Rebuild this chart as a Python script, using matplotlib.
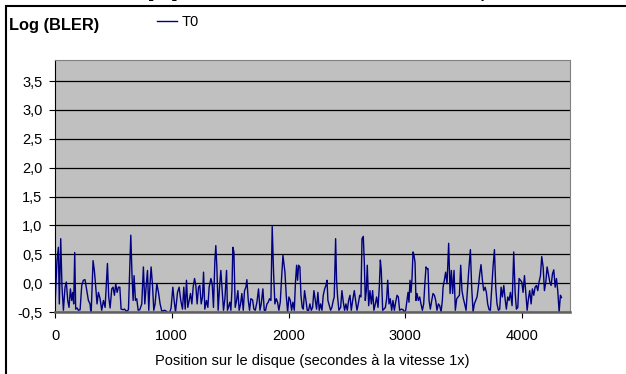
"""Log(BLER) vs disc position chart."""

import matplotlib
matplotlib.use("Agg")
import matplotlib.pyplot as plt
from matplotlib.patches import Rectangle
from matplotlib.ticker import FuncFormatter

# position on disc (seconds at 1x) and log(BLER)
secs = [
    0, 17, 29, 37, 49, 60, 72, 86, 97, 109, 120, 132, 143, 152, 160, 169, 177, 189,
    200, 215, 229, 243, 257, 272, 286, 300, 309, 326, 337, 349, 360, 372, 386, 400,
    415, 429, 449, 460, 472, 486, 497, 509, 520, 532, 543, 555, 566, 583, 595, 612,
    629, 649, 660, 669, 677, 689, 700, 712, 726, 743, 757, 769, 780, 792, 803, 812,
    823, 834, 846, 857, 872, 886, 900, 915, 937, 957, 977, 994, 1009, 1020, 1032,
    1049, 1063, 1077, 1092, 1103,
    1115, 1126, 1137, 1149, 1160, 1172, 1183, 1195, 1206, 1217, 1229, 1240, 1252,
    1263, 1272, 1283, 1297, 1309, 1320, 1335, 1346, 1357, 1369, 1377, 1386, 1397,
    1409, 1420, 1432, 1443, 1455, 1469, 1477, 1489, 1497, 1506, 1515, 1523, 1532,
    1543, 1555, 1566, 1577, 1589, 1600, 1612, 1623, 1635, 1643, 1655, 1666, 1677,
    1692, 1703, 1715, 1729, 1743, 1755, 1766, 1780, 1792, 1803, 1815, 1826, 1837,
    1849, 1860, 1872, 1883, 1895, 1906, 1917, 1929, 1940, 1952, 1960, 1969, 1980,
    1992, 2003, 2015, 2026, 2037, 2049, 2060, 2069, 2077, 2086, 2097, 2106, 2117,
    2126, 2137, 2149, 2160, 2172, 2183, 2195, 2206,
    2217, 2229, 2240, 2251, 2263, 2274, 2286, 2297, 2309, 2320, 2329, 2337, 2349,
    2360, 2371, 2383, 2391, 2403, 2411, 2420, 2431, 2446, 2457, 2469, 2480, 2491,
    2503, 2514, 2526, 2537, 2549, 2563, 2574, 2586, 2597, 2609, 2620, 2629, 2640,
    2649, 2657, 2666, 2674, 2686, 2697, 2709, 2720, 2731, 2743, 2754, 2766, 2777,
    2786, 2794, 2806, 2817, 2829, 2840, 2849, 2860, 2871, 2883, 2894, 2906, 2917,
    2929, 2940, 2951, 2966, 2980, 2991, 3003, 3014, 3023, 3031, 3040, 3049, 3057,
    3066, 3074, 3083, 3091, 3100, 3111, 3123, 3134, 3146, 3157, 3169, 3177, 3186,
    3194, 3203, 3214, 3226, 3237, 3249, 3260, 3271, 3283, 3294, 3306, 3317,
    3323, 3334, 3345, 3357, 3371, 3383, 3394, 3405, 3417, 3428, 3440, 3451, 3463,
    3474, 3485, 3497, 3508, 3520, 3531, 3543, 3557, 3568, 3580, 3591, 3603, 3614,
    3625, 3637, 3648, 3660, 3671, 3683, 3694, 3705, 3717, 3728, 3740, 3751, 3763,
    3774, 3785, 3797, 3808, 3820, 3831, 3843, 3854, 3865, 3877, 3888, 3900, 3914,
    3928, 3940, 3951, 3963, 3974, 3985, 3997, 4008, 4020, 4031, 4043, 4054, 4065,
    4077, 4088, 4100, 4111, 4123, 4134, 4145, 4157, 4168, 4180, 4191, 4203, 4214,
    4225, 4237, 4248, 4260, 4271, 4283, 4294, 4305, 4317, 4328, 4337,
]
log_bler = [
    -0.40, 0.39, 0.62, -0.36, 0.77, -0.07, -0.47, -0.07, 0.02, -0.30, -0.42, -0.10,
    -0.30, -0.16, -0.36, 0.53, -0.45, -0.43, -0.47, -0.46, -0.04, 0.05, 0.06, -0.13,
    -0.30, -0.36, -0.55, 0.39, 0.22, -0.07, -0.36, -0.16, -0.27, -0.47, -0.30, -0.42,
    0.34, -0.24, -0.43, -0.10, -0.07, -0.21, -0.01, -0.16, -0.07, -0.07, -0.45, -0.46,
    -0.45, -0.49, -0.46, 0.83, 0.10, -0.30, 0.13, -0.30, -0.27, -0.47, -0.46, -0.36,
    0.28, -0.36, -0.07, 0.22, -0.47, -0.07, 0.28, -0.01, -0.47, -0.36, -0.01, -0.16,
    -0.36, -0.49, -0.47, -0.49, -0.55, -0.43, -0.07, -0.30, -0.50, -0.16, -0.07,
    -0.30, -0.45, -0.07,
    -0.45, 0.05, -0.42, -0.30, -0.18, -0.36, -0.07, 0.08, -0.04, -0.36, -0.07, -0.04,
    -0.36, -0.24, 0.19, -0.45, -0.30, -0.42, -0.07, 0.08, -0.01, -0.42, 0.39, 0.65,
    0.28, -0.47, -0.07, 0.22, -0.13, -0.47, -0.27, 0.22, -0.47, -0.39, -0.33, -0.47,
    -0.13, 0.62, 0.54, -0.42, -0.30, -0.13, -0.47, -0.36, -0.18, -0.47, -0.13, -0.07,
    0.06, -0.30, -0.47, -0.27, -0.29, -0.45, -0.47, -0.33, -0.10, -0.47, -0.36, -0.10,
    -0.47, -0.47, -0.36, -0.33, -0.27, -0.30, 0.98, 0.16, -0.36, -0.27, -0.33, -0.47,
    -0.33, 0.08, 0.48, 0.34, 0.19, -0.21, -0.50, -0.24, -0.30, -0.47, -0.33, -0.47,
    0.05, 0.31, 0.05, 0.31, 0.28, -0.21, -0.42, -0.45, -0.13, -0.30, -0.47, -0.47,
    -0.36, -0.47, -0.42,
    -0.13, -0.30, -0.45, -0.16, -0.47, -0.36, -0.47, -0.21, -0.10, -0.04, 0.05, -0.30,
    -0.39, -0.47, -0.42, -0.30, -0.24, 0.77, 0.05, -0.24, -0.47, -0.42, -0.13, -0.33,
    -0.47, -0.36, -0.47, -0.30, -0.21, -0.47, -0.30, -0.13, -0.30, -0.47, -0.36,
    -0.21, -0.24, 0.77, 0.81, 0.34, -0.30, -0.13, 0.31, -0.39, -0.13, -0.36, -0.13,
    -0.47, -0.36, -0.24, -0.42, -0.07, 0.40, 0.22, -0.47, -0.45, -0.42, -0.27, 0.05,
    -0.36, -0.27, -0.47, -0.30, -0.47, -0.33, -0.21, -0.24, -0.47, -0.45, -0.46,
    -0.50, -0.47, -0.30, -0.16, -0.33, 0.05, -0.16, 0.08, 0.54, 0.48, 0.36, -0.30,
    -0.18, -0.30, -0.24, -0.36, -0.47, -0.36, 0.05, 0.28, 0.25, 0.25, -0.30, -0.45,
    -0.30, -0.18, -0.21, -0.30, -0.47, -0.36, -0.39, -0.50, -0.30,
    -0.07, 0.05, 0.19, -0.01, 0.69, -0.18, 0.22, -0.18, 0.22, -0.47, -0.27, -0.24,
    -0.21, 0.31, -0.13, -0.27, -0.36, -0.47, -0.13, 0.22, 0.58, -0.07, -0.50, -0.36,
    -0.30, -0.24, -0.07, 0.16, 0.32, 0.05, -0.13, -0.07, -0.16, -0.36, -0.46, -0.47,
    -0.07, 0.28, 0.58, -0.07, -0.36, -0.47, -0.45, -0.07, -0.24, -0.04, -0.27, -0.45,
    -0.24, -0.30, -0.16, -0.39, 0.54, -0.16, -0.45, -0.42, 0.08, 0.05, 0.02, -0.16,
    0.13, -0.16, -0.47, -0.27, -0.13, -0.36, -0.10, -0.21, -0.07, -0.04, -0.13, 0.02,
    0.13, 0.46, 0.28, -0.13, 0.02, 0.28, 0.16, 0.02, -0.04, 0.16, 0.23, -0.07, 0.08,
    -0.13, -0.50, -0.21, -0.25,
]

series_name = "T0"
x_ticks = [0, 1000, 2000, 3000, 4000]
y_ticks = [-0.5, 0.0, 0.5, 1.0, 1.5, 2.0, 2.5, 3.0, 3.5]

TITLE_HEAD = "Taux d'erreurs [T0]"
TITLE_TAIL = " en fonction de la durée de lecture d'un premier CD"

FONT = ["Liberation Sans", "DejaVu Sans"]
W, H = 626, 374
FS = 10.5

plt.rcParams["font.family"] = FONT

fig = plt.figure(figsize=(W / 100, H / 100), dpi=100, facecolor="white")

# chart frame, running off the right and bottom of the picture
fig.add_artist(Rectangle((6 / W, -0.2), 1.2, 1.2 - 6 / H,
                         transform=fig.transFigure, fill=False,
                         edgecolor="black", linewidth=1.5))

ax = fig.add_axes([55 / W, 1 - 312 / H, (570 - 55) / W, (312 - 60) / H])
ax.set_facecolor("#c0c0c0")

ax.plot(secs, log_bler, color="#000080", linewidth=1.0, label=series_name)

ax.set_xlim(0, 4410)
ax.set_ylim(-0.5, 3.864)
ax.set_xticks(x_ticks)
ax.set_yticks(y_ticks)
ax.yaxis.set_major_formatter(FuncFormatter(lambda v, _: f"{v:.1f}".replace(".", ",")))
ax.xaxis.set_major_formatter(FuncFormatter(lambda v, _: f"{v:.0f}"))

ax.grid(axis="y", color="black", linewidth=0.9)
ax.set_axisbelow(True)
ax.tick_params(axis="both", direction="out", length=4, width=0.8,
               labelsize=FS, colors="black")
ax.tick_params(axis="y", pad=5)
ax.tick_params(axis="x", pad=8.5)

for side in ["top", "right"]:
    ax.spines[side].set_color("#808080")
    ax.spines[side].set_linewidth(0.8)
ax.spines["left"].set_color("black")
ax.spines["left"].set_linewidth(0.8)
ax.spines["bottom"].set_color("#606060")
ax.spines["bottom"].set_linewidth(1.8)

ax.set_xlabel("Position sur le disque (secondes à la vitesse 1x)",
              fontsize=FS, labelpad=7.5)

fig.text(9 / W, 1 - 30 / H, "Log (BLER)", fontsize=11.8, fontweight="bold",
         ha="left", va="baseline")

# legend: short line plus series name
ax.legend(loc="center left", bbox_to_anchor=(157 / W, 1 - 22 / H),
          bbox_transform=fig.transFigure, frameon=False,
          fontsize=FS, handlelength=1.37, handletextpad=0.35,
          borderaxespad=0, borderpad=0)

# title sits above the picture, only its descenders show;
# line it up so the closing bracket ends near x = 177 px
renderer = fig.canvas.get_renderer()
probe = fig.text(0, 0, TITLE_HEAD, fontsize=11.5, fontweight="bold")
head_w = probe.get_window_extent(renderer).width
probe.remove()
fig.text((177 - head_w) / W, 1 + 2.5 / H, TITLE_HEAD + TITLE_TAIL,
         fontsize=11.5, fontweight="bold", ha="left", va="baseline")

fig.savefig("out.png", dpi=100, facecolor="white")
plt.close(fig)
